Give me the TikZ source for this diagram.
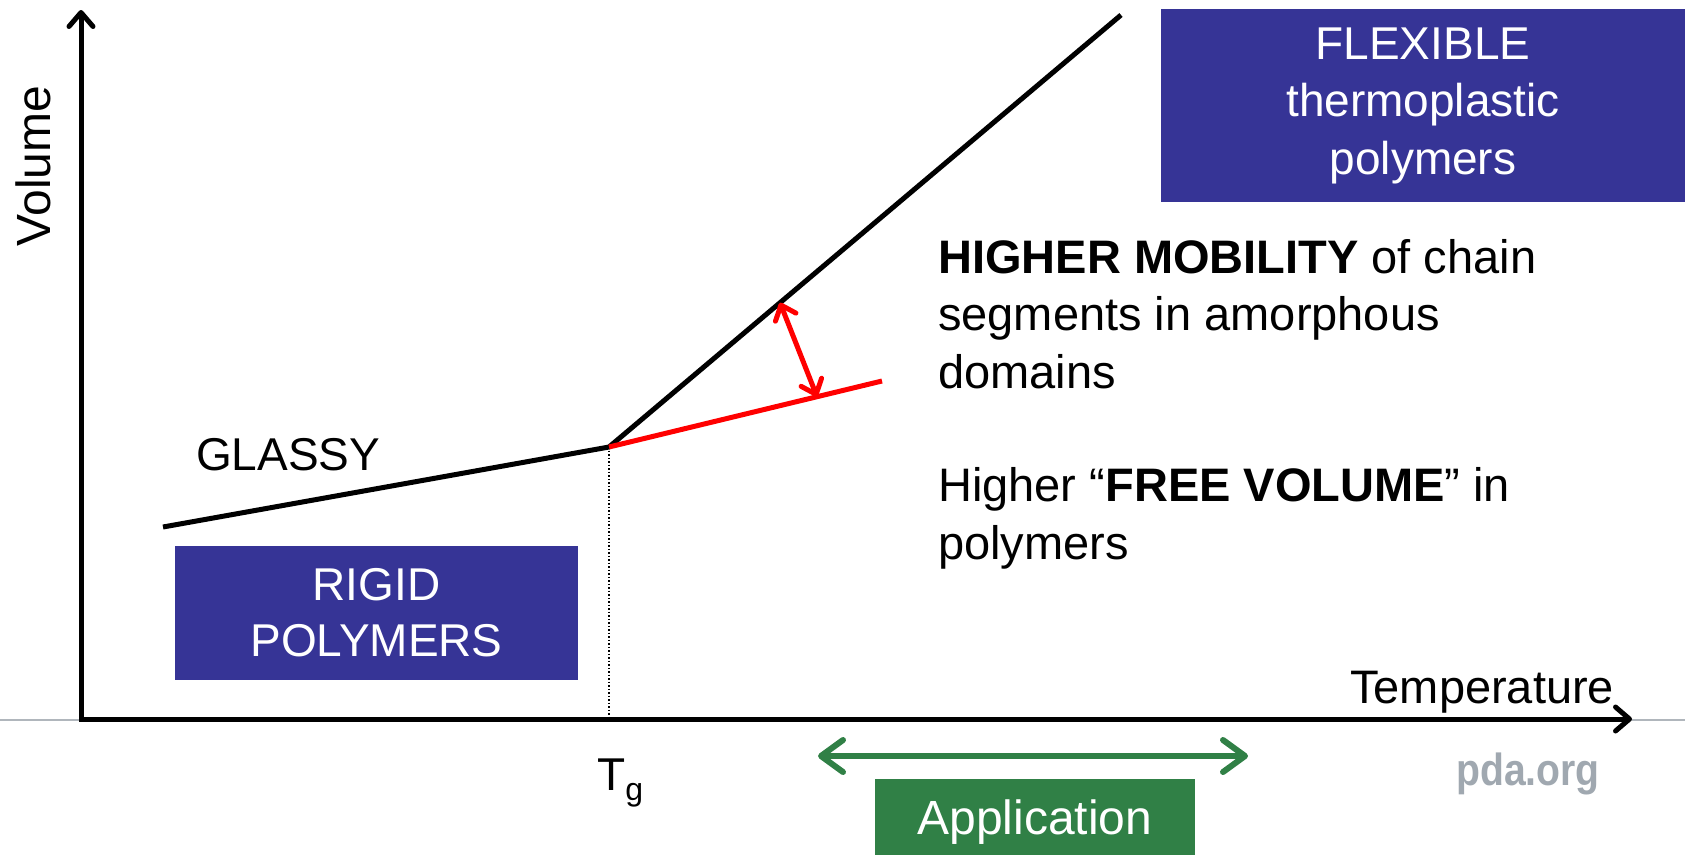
\documentclass[tikz,border=0pt]{standalone}
\usepackage{fontspec}
\setmainfont{Liberation Sans}
\newfontfamily\wmfont{Liberation Sans Bold}[FakeStretch=0.87]
\usetikzlibrary{arrows.meta,calc}
\definecolor{boxblue}{RGB}{54,52,150}
\definecolor{appgreen}{RGB}{48,128,70}
\definecolor{wmgray}{RGB}{160,168,176}
\definecolor{rulegray}{RGB}{176,182,188}
\begin{document}
\begin{tikzpicture}[x=1pt,y=-1pt,
  lbl/.style={font=\fontsize{46}{55}\selectfont, inner sep=0pt},
  bodytxt/.style={font=\fontsize{47}{57.5}\selectfont, inner sep=0pt, align=left},
  bluebox/.style={fill=boxblue, text=white, align=center, inner sep=0pt},
  greenbox/.style={fill=appgreen, text=white, align=center, inner sep=0pt, font=\fontsize{48}{55}\selectfont},
  axisline/.style={line width=5pt, {Straight Barb[length=14pt,width=24pt,round]}-{Straight Barb[length=14pt,width=24pt,round]}},
  curveline/.style={line width=5pt, line join=round},
  redline/.style={red, line width=5pt},
  redarrow/.style={red, line width=5pt, {Straight Barb[length=13pt,width=22pt,round]}-{Straight Barb[length=13pt,width=22pt,round]}},
  apparrow/.style={appgreen, line width=6pt, {Straight Barb[length=22pt,width=32pt,round]}-{Straight Barb[length=22pt,width=32pt,round]}},
]
\useasboundingbox (0,0) rectangle (1685,855);

% thin grey rule
\coordinate (RL) at (0,720);
\coordinate (RR) at (1685,720);
\draw[rulegray, line width=1.5pt] (RL) -- (RR);

% axes
\coordinate (O) at (81,719);
\coordinate (Ytop) at (81,10);
\coordinate (Xend) at (1632,719);
\draw[axisline] (Ytop) -- (O) -- (Xend);

% curve points
\coordinate (G0) at (163,527);
\coordinate (Tg) at (609,447);
\coordinate (U) at (1121,15);
\coordinate (R) at (882,381);

\draw[dotted, line width=1.5pt] (Tg) -- (Tg |- O);
\draw[curveline] (G0) -- (Tg) -- (U);
\draw[redline] (Tg) -- (R);

\coordinate (A1) at ($(Tg)!0.334!(U)$);
\coordinate (A2) at ($(Tg)!0.762!(R)$);
\draw[redarrow] (A1) -- (A2);

% labels
\node[inner sep=0pt, font=\fontsize{48}{48}\selectfont, rotate=90, anchor=base] (vol) at (50,166) {Volume};
\node[inner sep=0pt, font=\fontsize{47}{47}\selectfont, anchor=base west] (temp) at (1350,703) {Temperature};
\node[lbl, anchor=base west] (glassy) at (196,470) {GLASSY};
\node[lbl, anchor=base west] (tglbl) at (597,790) {T\raisebox{-10pt}{\fontsize{32}{32}\selectfont g}};
\node[inner sep=0pt, anchor=base west, text=wmgray, font=\wmfont\fontsize{45}{45}\selectfont] (wm) at (1456,785) {pda.org};

\node[bodytxt, anchor=base west] (mob) at (938,388) {\textbf{HIGHER MOBILITY} of chain\\segments in amorphous\\domains};
\node[bodytxt, anchor=base west] (free) at (938,559) {Higher “\textbf{FREE VOLUME}” in\\polymers};

% boxes
\node[bluebox, font=\fontsize{46}{56}\selectfont, minimum width=403pt, minimum height=134pt] (rigid) at (376.5,613) {RIGID\\POLYMERS};
\node[bluebox, font=\fontsize{46}{57.5}\selectfont, minimum width=524pt, minimum height=193pt] (flex) at (1423,105.5) {FLEXIBLE\\thermoplastic\\polymers};
\node[greenbox, minimum width=320pt, minimum height=76pt, text height=34pt, text depth=0pt] (app) at (1035,817) {Application};

% application range arrow
\coordinate (P1) at (818,756);
\coordinate (P2) at (1248,756);
\draw[apparrow] (P1) -- (P2);
\end{tikzpicture}
\end{document}
